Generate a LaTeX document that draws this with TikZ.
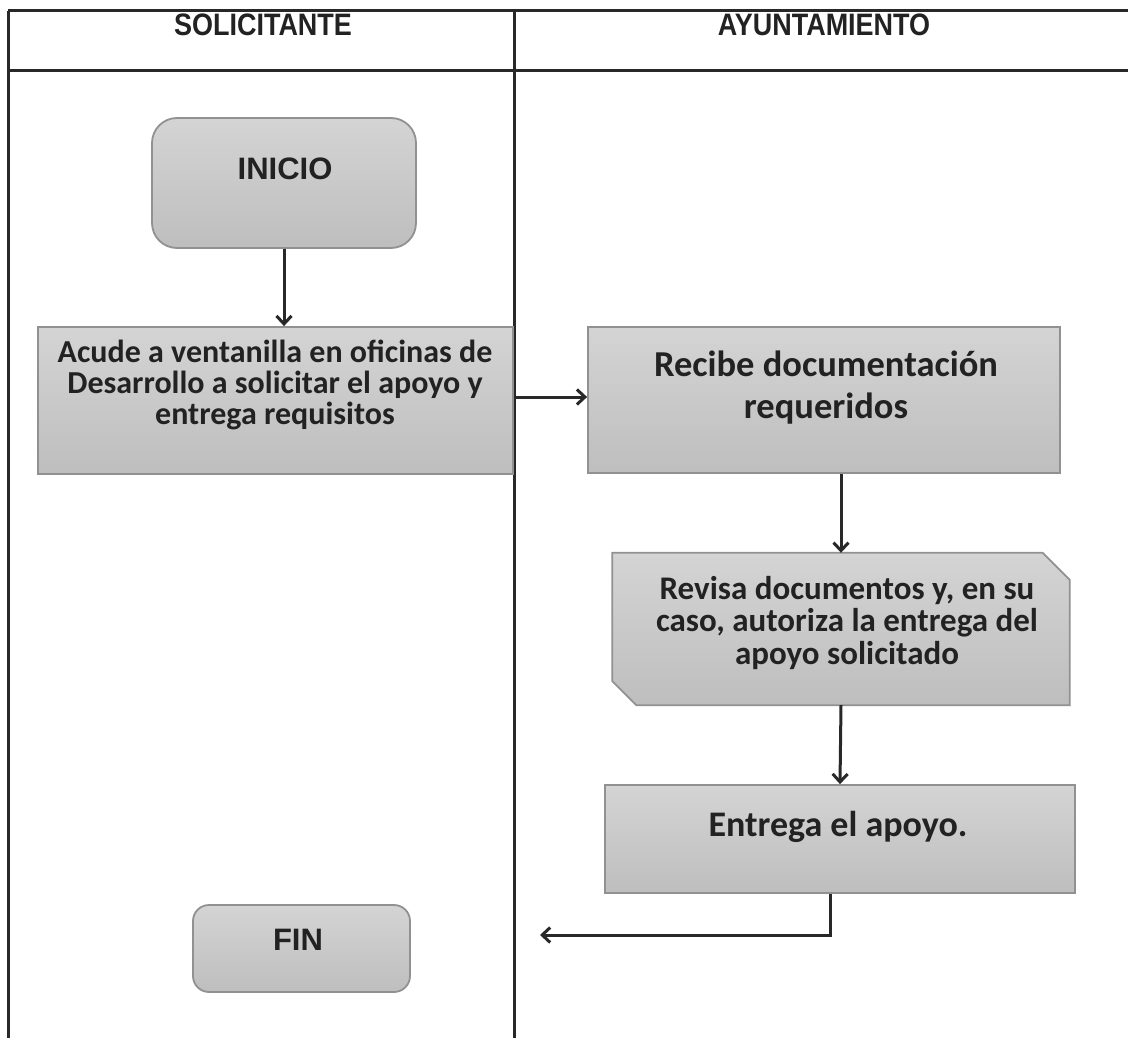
\documentclass[tikz,border=0pt]{standalone}
\usepackage{fontspec}
\setmainfont{Carlito}
\newfontfamily\arialf{Liberation Sans}
\newfontfamily\hdrf{Liberation Sans}[FakeStretch=0.87]
\usetikzlibrary{arrows.meta}
\definecolor{txtc}{RGB}{34,34,34}
\definecolor{linec}{RGB}{40,40,40}
\definecolor{boxedge}{RGB}{145,145,145}
\definecolor{boxtop}{RGB}{212,212,212}
\definecolor{boxbot}{RGB}{190,190,190}
\begin{document}
\begin{tikzpicture}[x=1pt,y=-1pt,
  frame/.style={draw=linec, line width=3pt},
  shapebox/.style={draw=boxedge, line width=1.8pt, top color=boxtop, bottom color=boxbot},
  procbox/.style={shapebox, rectangle, inner sep=0pt},
  termbox/.style={shapebox, rectangle, inner sep=0pt},
  plain/.style={inner sep=0pt, minimum width=0pt, minimum height=0pt},
  txt/.style={text=txtc, align=center, inner sep=0pt},
  arr/.style={draw=linec, line width=3pt, -{Straight Barb[length=8pt,width=15pt]}},
  hdr/.style={text=txtc, inner sep=0pt, font=\hdrf\bfseries\fontsize{31}{31}\selectfont}
]
\useasboundingbox (0,0) rectangle (1128,1038);
\fill[white] (0,0) rectangle (1128,1038);

% lanes
\draw[frame] (8,11) -- (1128,11);
\draw[frame] (8,71) -- (1128,71);
\draw[frame] (8,11) -- (8,1038);
\draw[frame] (514,11) -- (514,1038);
\node[hdr] (h1) at (263,25) {SOLICITANTE};
\node[hdr] (h2) at (824,25) {AYUNTAMIENTO};

% boxes
\node[termbox, rounded corners=25pt, minimum width=264pt, minimum height=130pt] (inicio) at (284,183) {};
\node[txt, font=\arialf\bfseries\fontsize{31}{31}\selectfont] (inicioT) at (285,169) {INICIO};

\node[procbox, minimum width=475pt, minimum height=147pt] (acude) at (275.5,400.5) {};
\node[txt, font=\bfseries\fontsize{32}{31}\selectfont] (acudeT) at (275,385)
  {Acude a ventanilla en oficinas de\\Desarrollo a solicitar el apoyo y\\entrega requisitos};

\node[procbox, minimum width=472pt, minimum height=146pt] (recibe) at (824,400) {};
\node[txt, font=\bfseries\fontsize{36.5}{42}\selectfont] (recibeT) at (826,388)
  {Recibe documentación\\requeridos};

\node[plain, minimum width=457pt, minimum height=152pt] (revisa) at (841,629) {};
\path[shapebox] ([xshift=-27pt]revisa.north east) -- ([yshift=-27pt]revisa.north east)
  -- (revisa.south east) -- ([xshift=24pt]revisa.south west)
  -- ([yshift=24pt]revisa.south west) -- (revisa.north west) -- cycle;
\node[txt, font=\bfseries\fontsize{33}{32.5}\selectfont] (revisaT) at (847,623)
  {Revisa documentos y, en su\\caso, autoriza la entrega del\\apoyo solicitado};

\node[procbox, minimum width=470pt, minimum height=108pt] (entrega) at (840,839) {};
\node[txt, font=\bfseries\fontsize{36}{36}\selectfont] (entregaT) at (838,827) {Entrega el apoyo.};

\node[termbox, rounded corners=16pt, minimum width=217pt, minimum height=87pt] (fin) at (301.5,948.5) {};
\node[txt, font=\arialf\bfseries\fontsize{31}{31}\selectfont] (finT) at (298,940) {FIN};

\coordinate (endc) at (540,935);

% connectors
\draw[arr] (inicio.south) -- (inicio.south |- acude.north);
\draw[arr] (acude.east |- 0,397) -- (recibe.west |- 0,397);
\draw[arr] (recibe.south -| revisa.north) -- (revisa.north);
\draw[arr] (revisa.south) -- (entrega.north);
\draw[arr] ([xshift=-10pt]entrega.south) |- (endc);
\end{tikzpicture}
\end{document}
